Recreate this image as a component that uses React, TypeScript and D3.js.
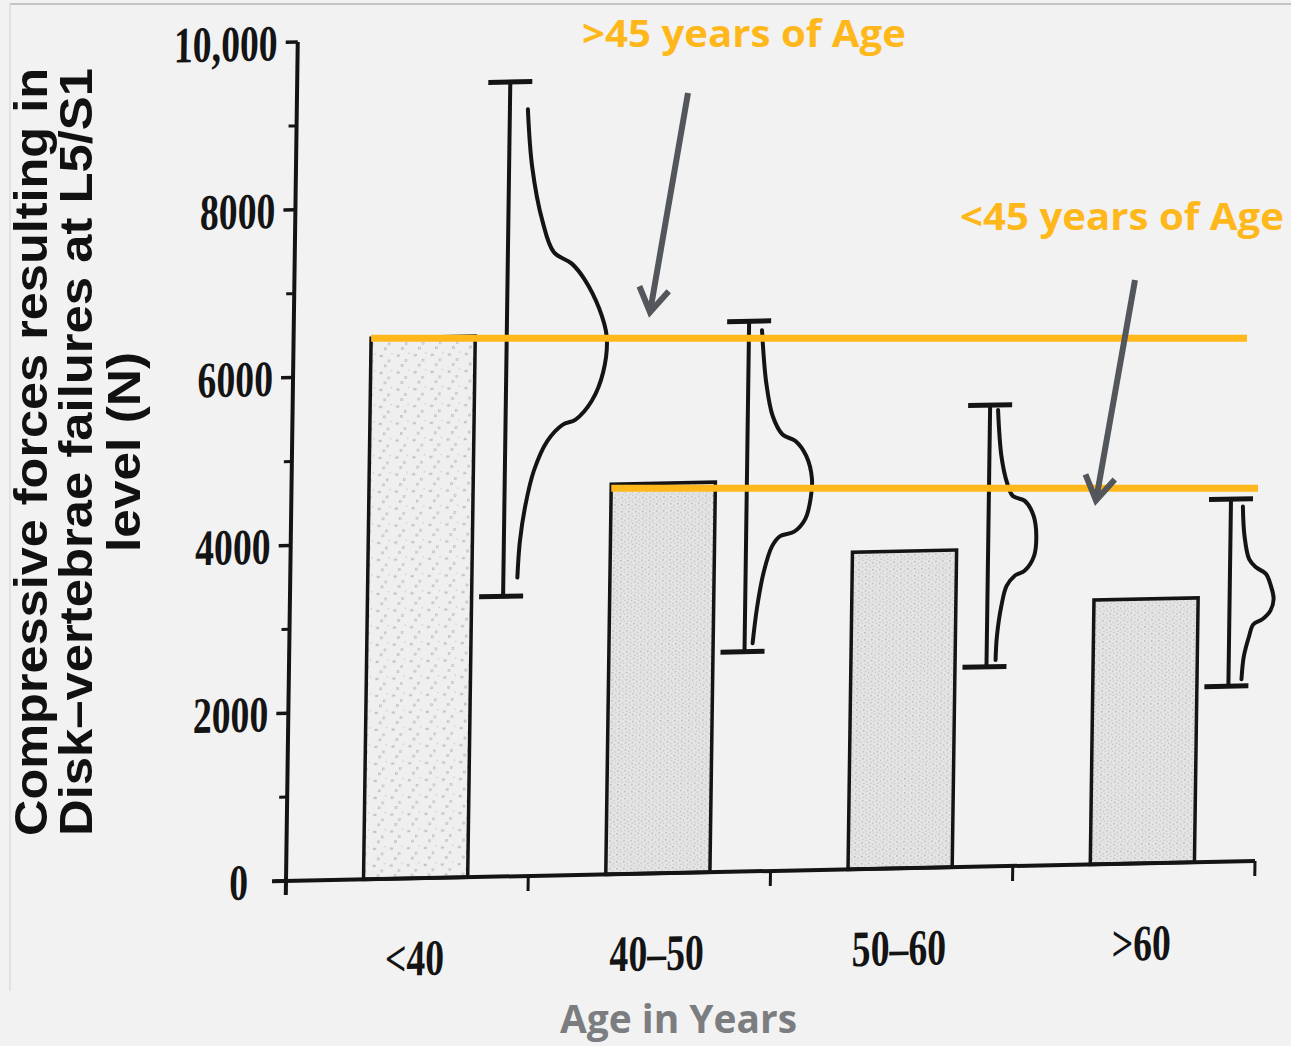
import React from 'react';
import * as d3 from 'd3';

// age groups and the force at which the disk/vertebra failed (N)
const ageGroups = ['<40', '40–50', '50–60', '>60'];
const meanForce = [6450, 4650, 3780, 3150];
const rangeMax = [9470, 6560, 5500, 4320];
const rangeMin = [3340, 2620, 2380, 2090];

// outline of the distribution drawn beside each range bar: [force, relative width]
const distLt40 = [[9140, 0.18], [8460, 0.23], [7810, 0.34], [7430, 0.46], [7290, 0.64], [7100, 0.77], [6750, 0.92], [6410, 1.0], [5990, 0.97], [5650, 0.86], [5430, 0.7], [5370, 0.57], [5180, 0.42], [4830, 0.29], [4420, 0.21], [3990, 0.16], [3560, 0.14]];
const dist40to50 = [[6450, 0.13], [5820, 0.18], [5420, 0.25], [5200, 0.35], [5120, 0.48], [4940, 0.59], [4670, 0.65], [4430, 0.64], [4190, 0.59], [4040, 0.48], [3990, 0.34], [3870, 0.26], [3560, 0.18], [3150, 0.12], [2720, 0.08]];
const dist50to60 = [[5440, 0.08], [4890, 0.12], [4570, 0.18], [4410, 0.24], [4350, 0.36], [4170, 0.45], [3930, 0.48], [3690, 0.46], [3520, 0.37], [3460, 0.27], [3340, 0.19], [3100, 0.14], [2740, 0.1], [2460, 0.09]];
const distGt60 = [[4230, 0.12], [3880, 0.14], [3600, 0.19], [3500, 0.26], [3420, 0.36], [3280, 0.41], [3120, 0.44], [2980, 0.41], [2880, 0.33], [2820, 0.24], [2680, 0.2], [2440, 0.15], [2170, 0.13]];
const distributions = [distLt40, dist40to50, dist50to60, distGt60];

const yTickValues = [0, 2000, 4000, 6000, 8000, 10000];
const yTickLabels = ['0', '2000', '4000', '6000', '8000', '10,000'];
const yMinorTicks = [1000, 3000, 5000, 7000, 9000];

// the two orange reference levels pasted on the slide
const refLevels = [6470, 4680];
const refStartGroup = ['<40', '40–50'];
const refLabels = ['>45 years of Age', '<45 years of Age'];

const yTitle = ['Compressive forces resulting in', 'Disk–vertebrae failures at L5/S1', 'level (N)'];
const xTitle = 'Age in Years';

const W = 1291, H = 1046;
const ox = 286, oy = 881;
// the scanned figure is slightly skewed
const sx = -0.014, sy = -0.0207;
const toPx = (lx: number, ly: number) => [ox + lx + sx * ly, oy + ly + sy * lx];

const ink = '#141414';
const orange = '#FFB81C';
const arrowGrey = '#53565A';

export default function App() {
  const x = d3.scaleBand().domain(ageGroups).range([0, 969]);
  const bw = x.bandwidth();
  const y = d3.scaleLinear().domain([0, 10000]).range([0, -839]);
  const dens = d3.scaleLinear().domain([0, 1]).range([0, 100]);

  const barX = (g: string) => (x(g) as number) + 0.32 * bw;
  const barW = 0.43 * bw;
  const whiskX = (g: string) => (x(g) as number) + 0.88 * bw;

  const distLine = d3.line<number[]>().curve(d3.curveCatmullRom.alpha(0.5));

  // arrows: from under the label down to its reference line
  const arrows = refLevels.map((v, i) => {
    const lineY = oy + y(v);
    const tip = i === 0 ? [650, lineY - 26] : [1096, lineY + 12];
    const start = i === 0 ? [688, 93] : [1135, 280];
    const a = Math.atan2(start[1] - tip[1], start[0] - tip[0]);
    const L = 28, s = 0.56;
    const w1 = [tip[0] + L * Math.cos(a - s), tip[1] + L * Math.sin(a - s)];
    const w2 = [tip[0] + L * Math.cos(a + s), tip[1] + L * Math.sin(a + s)];
    return { start, tip, w1, w2 };
  });

  const serif = "'Liberation Serif', 'Times New Roman', serif";

  return (
    <svg width={W} height={H} style={{ position: 'absolute', left: 0, top: 0 }}
      xmlns="http://www.w3.org/2000/svg">
      <defs>
        <pattern id="speckleLight" width="17" height="17" patternUnits="userSpaceOnUse">
          <rect width="17" height="17" fill="#efefef" />
          <rect x="2" y="3" width="2" height="1.5" fill="none" stroke="#a9a9a9" strokeWidth="0.6" />
          <rect x="10" y="8" width="1.5" height="2" fill="none" stroke="#b2b2b2" strokeWidth="0.6" />
          <rect x="6" y="13" width="2" height="1.5" fill="none" stroke="#a9a9a9" strokeWidth="0.6" />
          <rect x="13" y="1" width="1.2" height="1.2" fill="#c2c2c2" />
        </pattern>
        <pattern id="speckleDense" width="7" height="7" patternUnits="userSpaceOnUse">
          <rect width="7" height="7" fill="#e4e4e4" />
          <rect x="1" y="1" width="1.2" height="1.2" fill="#a5a5a5" />
          <rect x="4.5" y="3" width="1" height="1.2" fill="#b0b0b0" />
          <rect x="2" y="5" width="1.2" height="1" fill="#b8b8b8" />
          <rect x="5.5" y="6" width="0.8" height="0.8" fill="#9e9e9e" />
        </pattern>
      </defs>

      <rect width={W} height={H} fill="#f2f2f2" />
      <line x1={10} x2={W} y1={4} y2={4} stroke="#c4c4c4" strokeWidth={2} />
      <line x1={10} x2={10} y1={4} y2={991} stroke="#dcdcdc" strokeWidth={1.5} />

      {/* scanned figure */}
      <g transform={`translate(${ox},${oy}) matrix(1,${sy},${sx},1,0,0)`}>
        {ageGroups.map((g, i) => (
          <rect key={g} x={barX(g)} y={y(meanForce[i])} width={barW}
            height={-y(meanForce[i])} fill={i === 0 ? 'url(#speckleLight)' : 'url(#speckleDense)'}
            stroke={ink} strokeWidth={3.5} />
        ))}

        {ageGroups.map((g, i) => {
          const wx = whiskX(g);
          return (
            <g key={g} stroke={ink} fill="none" strokeLinecap="butt">
              <line x1={wx} x2={wx} y1={y(rangeMax[i])} y2={y(rangeMin[i])} strokeWidth={4} />
              <line x1={wx - 22} x2={wx + 22} y1={y(rangeMax[i])} y2={y(rangeMax[i])} strokeWidth={5} />
              <line x1={wx - 24} x2={wx + 20} y1={y(rangeMin[i])} y2={y(rangeMin[i])} strokeWidth={5} />
              <path d={distLine(distributions[i].map(d => [wx + dens(d[1]), y(d[0])])) || ''}
                strokeWidth={4} strokeLinecap="round" />
            </g>
          );
        })}

        {/* y axis */}
        <line x1={0} x2={0} y1={y(10000)} y2={14} stroke={ink} strokeWidth={4} />
        {yTickValues.map(v => (
          <line key={v} x1={-12} x2={0} y1={y(v)} y2={y(v)} stroke={ink} strokeWidth={3.5} />
        ))}
        {yMinorTicks.map(v => (
          <line key={v} x1={-8} x2={0} y1={y(v)} y2={y(v)} stroke={ink} strokeWidth={3} />
        ))}
        {yTickValues.map((v, i) => (
          <text key={v} transform={`translate(${v === 0 ? -38 : -20},${y(v)}) scale(0.74,1)`} textAnchor="end"
            dy="0.35em" fontFamily={serif} fontWeight="bold" fontSize={51} fill={ink}>
            {yTickLabels[i]}
          </text>
        ))}

        {/* x axis */}
        <line x1={-14} x2={969} y1={0} y2={0} stroke={ink} strokeWidth={4} />
        {ageGroups.map(g => (
          <line key={g} x1={(x(g) as number) + bw} x2={(x(g) as number) + bw} y1={0} y2={15}
            stroke={ink} strokeWidth={3} />
        ))}
        {ageGroups.map(g => (
          <text key={g} transform={`translate(${barX(g) + barW / 2},97) scale(0.74,1)`}
            textAnchor="middle" fontFamily={serif} fontWeight="bold" fontSize={51} fill={ink}>
            {g}
          </text>
        ))}
      </g>

      {/* y title */}
      {yTitle.map((t, i) => (
        <text key={t} transform={`translate(${[47, 92, 140][i]},452) rotate(-90)`} textAnchor="middle"
          fontFamily="'Liberation Sans', Arial, sans-serif" fontWeight="bold" fontSize={46} fill="#111"
          textLength={i === 2 ? 200 : 768} lengthAdjust="spacingAndGlyphs">
          {t}
        </text>
      ))}

      {/* slide overlays */}
      {refLevels.map((v, i) => {
        const start = toPx(barX(refStartGroup[i]), y(v))[0];
        return (
          <line key={v} x1={start} x2={i === 0 ? 1247 : 1258} y1={oy + y(v)} y2={oy + y(v)}
            stroke={orange} strokeWidth={7} />
        );
      })}

      {arrows.map((a, i) => (
        <g key={i} stroke={arrowGrey} strokeWidth={6} fill="none">
          <line x1={a.start[0]} y1={a.start[1]} x2={a.tip[0]} y2={a.tip[1]} />
          <polyline points={`${a.w1[0]},${a.w1[1]} ${a.tip[0]},${a.tip[1]} ${a.w2[0]},${a.w2[1]}`}
            strokeLinejoin="miter" />
        </g>
      ))}

      {refLabels.map((t, i) => (
        <text key={t} x={i === 0 ? 582 : 960} y={i === 0 ? 47 : 230} fontFamily="'Open Sans', sans-serif"
          fontWeight={700} fontSize={38} fill={orange} textLength={324} lengthAdjust="spacingAndGlyphs">
          {t}
        </text>
      ))}

      <text x={560} y={1033} fontFamily="'Open Sans', sans-serif" fontWeight={700} fontSize={39}
        fill="#7b7d80" textLength={237} lengthAdjust="spacingAndGlyphs">
        {xTitle}
      </text>
    </svg>
  );
}
